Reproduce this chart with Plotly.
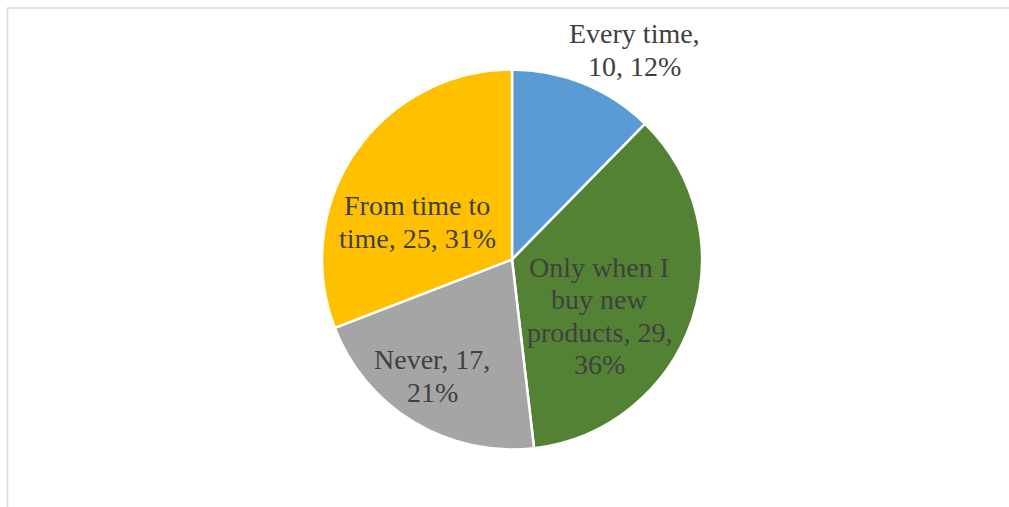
import plotly.graph_objects as go

# Survey answers and counts
categories = ["Every time", "Only when I buy new products", "Never", "From time to time"]
counts = [10, 29, 17, 25]
colors = ["#5B9BD5", "#548235", "#A5A5A5", "#FFC000"]

# Line-wrapped label text for each slice (wrapping only)
wrapped = [
    ["Every time,", "{v}, {p}%"],
    ["Only when I", "buy new", "products, {v},", "{p}%"],
    ["Never, {v},", "{p}%"],
    ["From time to", "time, {v}, {p}%"],
]
# label centres in pixels (x, y from top)
label_pos = [(634, 50), (599, 316), (432, 376), (417, 222)]

W, H = 1009, 507
cx, cy, r = 512, 259.5, 190

fig = go.Figure(go.Pie(
    labels=categories,
    values=counts,
    sort=False,
    direction="clockwise",
    rotation=0,
    marker=dict(colors=colors, line=dict(color="white", width=2.5)),
    textinfo="none",
    hoverinfo="label+value+percent",
    domain=dict(x=[(cx - r) / W, (cx + r) / W],
                y=[(H - cy - r) / H, (H - cy + r) / H]),
))

total = sum(counts)
line_gap = 32.5
for lines, v, (lx, ly) in zip(wrapped, counts, label_pos):
    pct = round(100 * v / total)
    n = len(lines)
    for i, ln in enumerate(lines):
        y_px = ly + (i - (n - 1) / 2) * line_gap
        fig.add_annotation(
            x=lx / W, y=1 - y_px / H, xref="paper", yref="paper",
            text=ln.format(v=v, p=pct), showarrow=False,
            xanchor="center", yanchor="middle",
            font=dict(family="Liberation Serif", size=28, color="#404040"),
        )

# chart-area frame (top and left edges)
frame = dict(color="#D9D9D9", width=1.5)
fig.add_shape(type="line", xref="paper", yref="paper",
              x0=7 / W, x1=1, y0=1 - 8 / H, y1=1 - 8 / H, line=frame)
fig.add_shape(type="line", xref="paper", yref="paper",
              x0=7.5 / W, x1=7.5 / W, y0=1 - 8 / H, y1=0, line=frame)

fig.update_layout(
    width=W, height=H,
    margin=dict(l=0, r=0, t=0, b=0),
    showlegend=False,
    paper_bgcolor="white",
    plot_bgcolor="white",
)

fig.write_html("out.html")
